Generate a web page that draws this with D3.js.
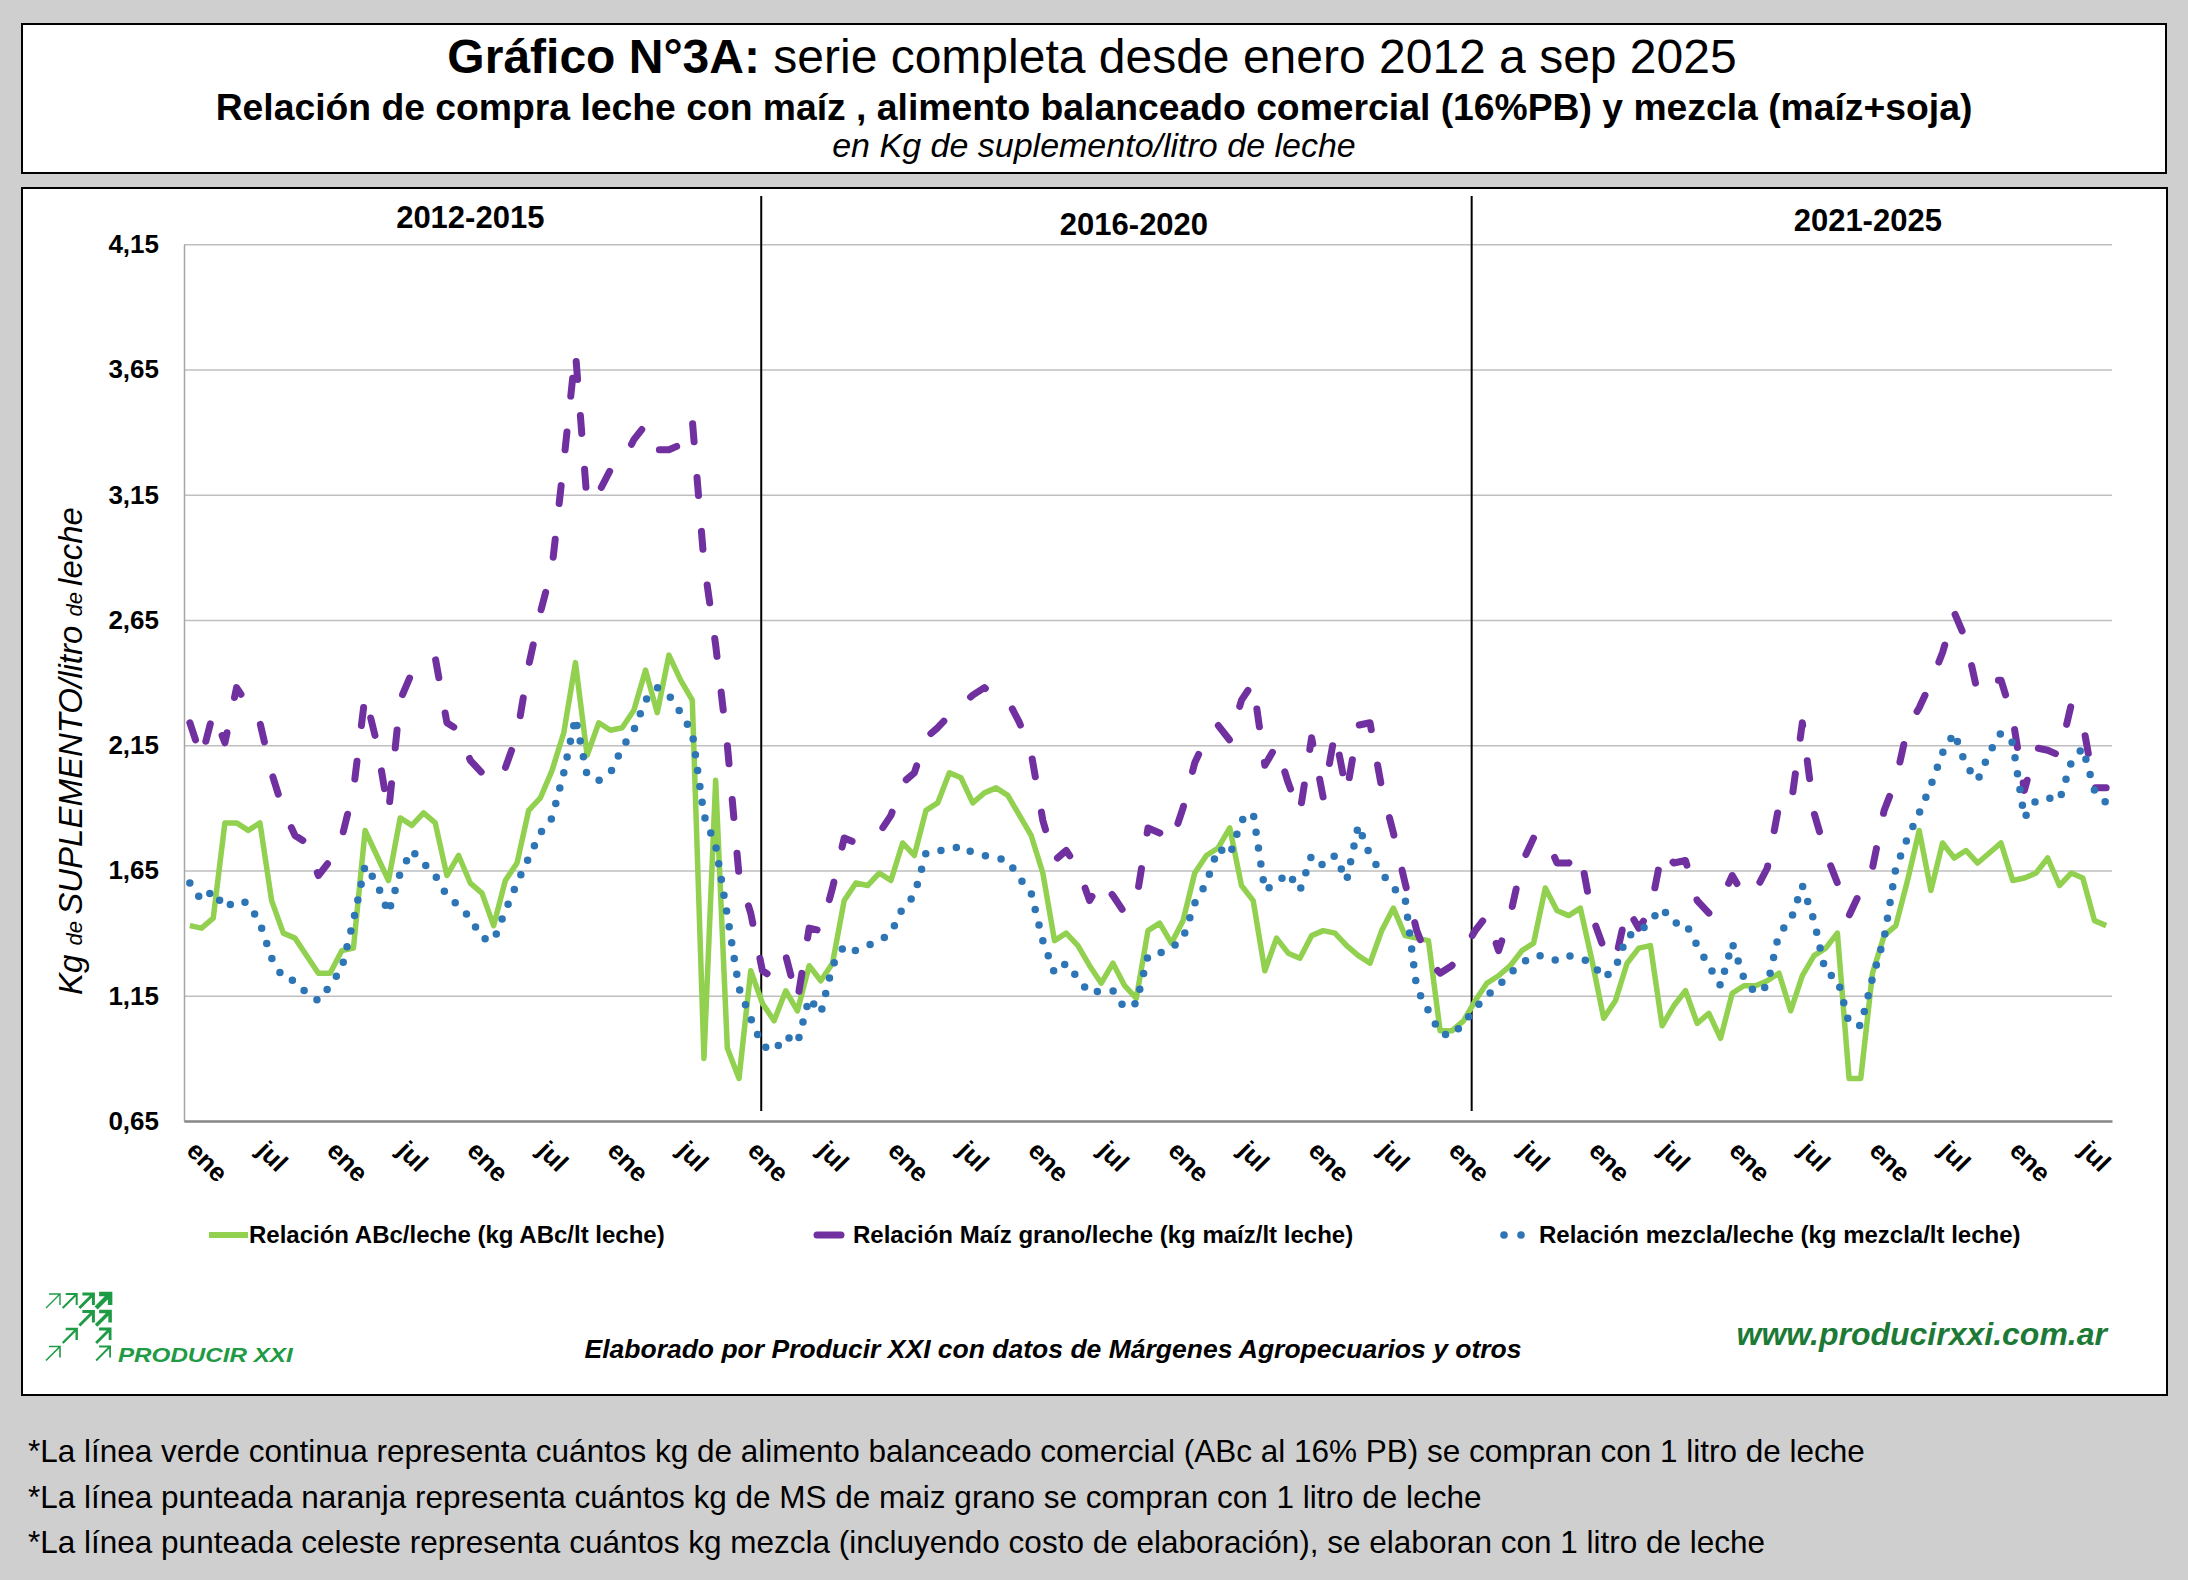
<!DOCTYPE html>
<html>
<head>
<meta charset="utf-8">
<script src="https://cdn.jsdelivr.net/npm/d3@7"></script>
<style>
body{margin:0;background:#d0cfcf;}
svg{display:block;font-family:Arial,"Liberation Sans",sans-serif;}
</style>
</head>
<body>
<div id="chart"></div>
<script>
var W = 2188, H = 1580;

// meses: ene 2012 .. sep 2025
var meses = ["ene","feb","mar","abr","may","jun","jul","ago","sep","oct","nov","dic"];
var anioInicio = 2012, nMeses = 165;
var tickLabels = ["ene","jul"];
var yTicks = [0.65,1.15,1.65,2.15,2.65,3.15,3.65,4.15];
var periodos = ["2012-2015","2016-2020","2021-2025"];
var periodoCentro = [24, 80.8, 143.6];   // en indice de mes
var cortes = [48.9, 109.7];              // separadores verticales

// Relacion ABc/leche
var abc = [
1.43,1.42,1.46,1.84,1.84,1.81,1.84,1.53,1.40,1.38,1.31,1.24,
1.24,1.33,1.34,1.81,1.71,1.61,1.86,1.83,1.88,1.84,1.63,1.71,
1.60,1.56,1.43,1.61,1.68,1.89,1.94,2.05,2.20,2.48,2.11,2.24,
2.21,2.22,2.29,2.45,2.28,2.51,2.41,2.33,0.90,2.01,0.94,0.82,
1.25,1.12,1.05,1.17,1.09,1.27,1.21,1.28,1.53,1.60,1.59,1.64,
1.61,1.76,1.71,1.89,1.92,2.04,2.02,1.92,1.96,1.98,1.95,1.87,
1.79,1.64,1.37,1.40,1.35,1.27,1.20,1.28,1.19,1.14,1.41,1.44,
1.36,1.45,1.64,1.71,1.74,1.82,1.59,1.53,1.25,1.38,1.32,1.30,
1.39,1.41,1.40,1.35,1.31,1.28,1.41,1.50,1.39,1.38,1.37,1.01,
1.01,1.05,1.13,1.20,1.23,1.27,1.33,1.36,1.58,1.49,1.47,1.50,
1.29,1.06,1.13,1.28,1.34,1.35,1.03,1.11,1.17,1.04,1.08,0.98,
1.16,1.19,1.19,1.21,1.24,1.09,1.23,1.31,1.34,1.40,0.82,0.82,
1.24,1.39,1.43,1.61,1.81,1.57,1.76,1.70,1.73,1.68,1.72,1.76,
1.61,1.62,1.64,1.70,1.59,1.64,1.62,1.45,1.43
];

// Relacion maiz grano/leche
var maiz = [
2.24,2.10,2.28,2.16,2.38,2.31,2.24,2.04,1.89,1.79,1.76,1.63,
1.69,1.78,1.97,2.35,2.16,1.88,2.33,2.44,2.47,2.50,2.24,2.21,
2.09,2.04,2.00,2.06,2.19,2.47,2.68,2.86,3.28,3.72,3.12,3.16,
3.25,3.28,3.37,3.43,3.33,3.33,3.35,3.45,2.88,2.55,2.15,1.63,
1.48,1.25,1.22,1.31,1.13,1.42,1.41,1.58,1.78,1.76,1.78,1.80,
1.87,2.00,2.04,2.18,2.22,2.27,2.31,2.35,2.38,2.34,2.33,2.24,
2.12,1.85,1.69,1.73,1.66,1.53,1.61,1.55,1.48,1.53,1.82,1.80,
1.76,1.90,2.08,2.18,2.23,2.17,2.33,2.40,2.07,2.15,2.00,1.88,
2.18,1.94,2.20,1.96,2.23,2.24,1.98,1.80,1.60,1.41,1.29,1.24,
1.27,1.33,1.41,1.47,1.33,1.47,1.68,1.78,1.79,1.68,1.68,1.72,
1.47,1.34,1.29,1.50,1.42,1.49,1.73,1.68,1.69,1.53,1.48,1.53,
1.63,1.55,1.57,1.66,1.91,1.90,2.24,1.88,1.72,1.60,1.47,1.57,
1.66,1.89,2.01,2.22,2.30,2.40,2.52,2.68,2.57,2.36,2.41,2.41,
2.26,1.97,2.14,2.13,2.11,2.31,2.24,1.98,1.98
];

// Relacion mezcla/leche
var mezcla = [
1.60,1.53,1.57,1.50,1.53,1.52,1.44,1.30,1.22,1.21,1.16,1.13,
1.19,1.26,1.45,1.67,1.60,1.48,1.64,1.73,1.68,1.63,1.55,1.51,
1.46,1.38,1.37,1.49,1.60,1.70,1.80,1.86,2.04,2.26,2.03,2.01,
2.04,2.14,2.21,2.33,2.38,2.35,2.28,2.20,1.87,1.75,1.47,1.18,
1.06,0.95,0.93,0.99,0.96,1.14,1.08,1.27,1.35,1.33,1.35,1.37,
1.40,1.50,1.55,1.72,1.73,1.73,1.75,1.72,1.71,1.70,1.69,1.62,
1.56,1.37,1.24,1.28,1.22,1.16,1.17,1.17,1.10,1.12,1.31,1.32,
1.34,1.38,1.52,1.60,1.74,1.71,1.85,1.88,1.57,1.60,1.64,1.57,
1.71,1.67,1.71,1.61,1.83,1.71,1.64,1.58,1.54,1.18,1.09,1.00,
0.99,1.04,1.10,1.15,1.19,1.24,1.28,1.31,1.31,1.29,1.31,1.30,
1.28,1.22,1.26,1.39,1.40,1.45,1.50,1.44,1.44,1.35,1.27,1.19,
1.36,1.22,1.16,1.19,1.40,1.45,1.59,1.45,1.24,1.22,1.04,1.03,
1.22,1.38,1.66,1.78,1.88,1.99,2.12,2.20,2.07,2.01,2.12,2.20,
2.16,1.86,1.93,1.94,1.93,2.08,2.14,1.97,1.92
];

var categorias = d3.range(nMeses).map(function(i){
	return meses[i%12] + "-" + (anioInicio + Math.floor(i/12));
});

var verde = "#92d050", violeta = "#7030a0", azul = "#2e75b6";
var verdeLogo = "#1f9a45", verdeWeb = "#1d7a36";

var svg = d3.select("#chart").append("svg")
	.attr("width", W)
	.attr("height", H);

svg.append("rect").attr("width", W).attr("height", H).attr("fill", "#d0cfcf");

// ---- caja de titulo
svg.append("rect")
	.attr("x", 22).attr("y", 24)
	.attr("width", 2144).attr("height", 149)
	.attr("fill", "#fff").attr("stroke", "#000").attr("stroke-width", 2);

var t1 = svg.append("text")
	.attr("x", 1092).attr("y", 73)
	.attr("text-anchor", "middle")
	.attr("font-size", 48);
t1.append("tspan").attr("font-weight", "bold").text("Gráfico N°3A:");
t1.append("tspan").text(" serie completa desde enero 2012 a sep 2025");

svg.append("text")
	.attr("x", 1094).attr("y", 120)
	.attr("text-anchor", "middle")
	.attr("font-size", 37.3)
	.attr("font-weight", "bold")
	.text("Relación de compra leche con maíz , alimento balanceado comercial (16%PB) y mezcla (maíz+soja)");

svg.append("text")
	.attr("x", 1094).attr("y", 157)
	.attr("text-anchor", "middle")
	.attr("font-size", 34)
	.attr("font-style", "italic")
	.text("en Kg de suplemento/litro de leche");

// ---- caja del grafico
svg.append("rect")
	.attr("x", 22).attr("y", 188)
	.attr("width", 2145).attr("height", 1207)
	.attr("fill", "#fff").attr("stroke", "#000").attr("stroke-width", 2);

var x = d3.scaleLinear().domain([-0.5, nMeses - 0.5]).range([184, 2112]);
var y = d3.scaleLinear().domain([0.65, 4.15]).range([1121, 244.3]);

// grilla
var grid = svg.append("g")
	.attr("transform", "translate(184,0)")
	.call(d3.axisLeft(y).tickValues(yTicks).tickSize(-(2112 - 184)).tickFormat(""));
grid.select(".domain").remove();
grid.selectAll("line").attr("stroke", "#bfbfbf").attr("stroke-width", 1.5);

// eje y
var yAxis = svg.append("g")
	.attr("transform", "translate(184,0)")
	.call(d3.axisLeft(y).tickValues(yTicks).tickSize(0).tickPadding(25)
		.tickFormat(function(d){ return d3.format(".2f")(d).replace(".", ","); }));
yAxis.select(".domain").attr("stroke", "#a6a6a6").attr("stroke-width", 1.5);
yAxis.selectAll("text")
	.attr("font-size", 26)
	.attr("font-weight", "bold")
	.attr("font-family", "Arial, 'Liberation Sans', sans-serif")
	.attr("fill", "#000");

// eje x
var xAxis = svg.append("g")
	.attr("transform", "translate(0," + y(0.65) + ")")
	.call(d3.axisBottom(x).tickValues(d3.range(0, nMeses, 6)).tickSize(0)
		.tickFormat(function(i){ return tickLabels[(i/6)%2]; }));
xAxis.select(".domain").attr("stroke", "#898989").attr("stroke-width", 2.5);
xAxis.selectAll("text")
	.attr("x", 0).attr("y", 0).attr("dy", 0)
	.attr("text-anchor", "start")
	.attr("transform", "translate(-5,31) rotate(45)")
	.attr("font-size", 26)
	.attr("font-weight", "bold")
	.attr("font-family", "Arial, 'Liberation Sans', sans-serif")
	.attr("fill", "#000");

// separadores de periodos
cortes.forEach(function(c){
	svg.append("line")
		.attr("x1", x(c)).attr("x2", x(c))
		.attr("y1", 196).attr("y2", 1111)
		.attr("stroke", "#000").attr("stroke-width", 2);
});

periodos.forEach(function(p, k){
	svg.append("text")
		.attr("x", x(periodoCentro[k]))
		.attr("y", [228, 235, 231][k])
		.attr("text-anchor", "middle")
		.attr("font-size", 31)
		.attr("font-weight", "bold")
		.text(p);
});

// series
var linea = d3.line()
	.x(function(d, i){ return x(i); })
	.y(function(d){ return y(d); });

svg.append("path")
	.attr("d", linea(abc))
	.attr("fill", "none")
	.attr("stroke", verde)
	.attr("stroke-width", 5.5)
	.attr("stroke-linejoin", "round");

svg.append("path")
	.attr("d", linea(maiz))
	.attr("fill", "none")
	.attr("stroke", violeta)
	.attr("stroke-width", 7)
	.attr("stroke-linecap", "round")
	.attr("stroke-linejoin", "round")
	.attr("stroke-dasharray", "18,36");

svg.append("path")
	.attr("d", linea(mezcla))
	.attr("fill", "none")
	.attr("stroke", azul)
	.attr("stroke-width", 7.5)
	.attr("stroke-linecap", "round")
	.attr("stroke-dasharray", "0,16");

// titulo eje y
var yt = svg.append("text")
	.attr("transform", "translate(82,751) rotate(-90)")
	.attr("text-anchor", "middle")
	.attr("font-style", "italic")
	.attr("font-size", 33);
yt.append("tspan").text("Kg ");
yt.append("tspan").attr("font-size", 22).text("de ");
yt.append("tspan").text("SUPLEMENTO/litro ");
yt.append("tspan").attr("font-size", 22).text("de ");
yt.append("tspan").text("leche");

// leyenda
var ley = svg.append("g").attr("font-size", 24).attr("font-weight", "bold");
ley.append("line").attr("x1", 209).attr("x2", 248).attr("y1", 1235).attr("y2", 1235)
	.attr("stroke", verde).attr("stroke-width", 6);
ley.append("text").attr("x", 249).attr("y", 1243).text("Relación ABc/leche (kg ABc/lt leche)");
ley.append("line").attr("x1", 817).attr("x2", 841).attr("y1", 1235).attr("y2", 1235)
	.attr("stroke", violeta).attr("stroke-width", 7).attr("stroke-linecap", "round");
ley.append("text").attr("x", 853).attr("y", 1243).text("Relación Maíz grano/leche (kg maíz/lt leche)");
[1504, 1521].forEach(function(cx){
	ley.append("circle").attr("cx", cx).attr("cy", 1235).attr("r", 3.8).attr("fill", azul);
});
ley.append("text").attr("x", 1539).attr("y", 1243).text("Relación mezcla/leche (kg mezcla/lt leche)");

// logo: flechas [columna, fila, grosor]
var flechas = [[0,0,1.4],[1,0,2],[2,0,3],[3,0,4.5],[2,1,3],[3,1,3.5],[1,2,2.4],[3,2,2.8],[0,3,1.6],[3,3,1.8]];
var logo = svg.append("g").attr("stroke", verdeLogo).attr("fill", "none");
flechas.forEach(function(f){
	var fx = 45 + f[0] * 16.7, fy = 1293 + f[1] * 17.5;
	logo.append("path")
		.attr("stroke-width", f[2])
		.attr("d",
			"M" + (fx + 1) + "," + (fy + 15) + "L" + (fx + 15) + "," + (fy + 1) +
			"M" + (fx + 4) + "," + (fy + 1) + "L" + (fx + 15) + "," + (fy + 1) + "L" + (fx + 15) + "," + (fy + 12));
});
svg.append("text")
	.attr("transform", "translate(118,1362) scale(1.18,1)")
	.attr("font-size", 20.5).attr("font-weight", "bold").attr("font-style", "italic")
	.attr("fill", verdeLogo)
	.text("PRODUCIR XXI");

svg.append("text")
	.attr("x", 1053).attr("y", 1358)
	.attr("text-anchor", "middle")
	.attr("font-size", 26.5).attr("font-weight", "bold").attr("font-style", "italic")
	.text("Elaborado por Producir XXI con datos de Márgenes Agropecuarios y otros");

svg.append("text")
	.attr("x", 2107).attr("y", 1345)
	.attr("text-anchor", "end")
	.attr("font-size", 32).attr("font-weight", "bold").attr("font-style", "italic")
	.attr("fill", verdeWeb)
	.text("www.producirxxi.com.ar");

// notas al pie
var notas = [
	"*La línea verde continua representa cuántos kg de alimento balanceado comercial (ABc al 16% PB) se compran con 1 litro de leche",
	"*La línea punteada naranja representa cuántos kg de MS de maiz grano se compran con 1 litro de leche",
	"*La línea punteada celeste representa cuántos kg mezcla (incluyendo costo de elaboración), se elaboran con 1 litro de leche"
];
notas.forEach(function(n, k){
	svg.append("text")
		.attr("x", 28).attr("y", 1462 + k * 45.5)
		.attr("font-size", 31.5)
		.text(n);
});
</script>
</body>
</html>
